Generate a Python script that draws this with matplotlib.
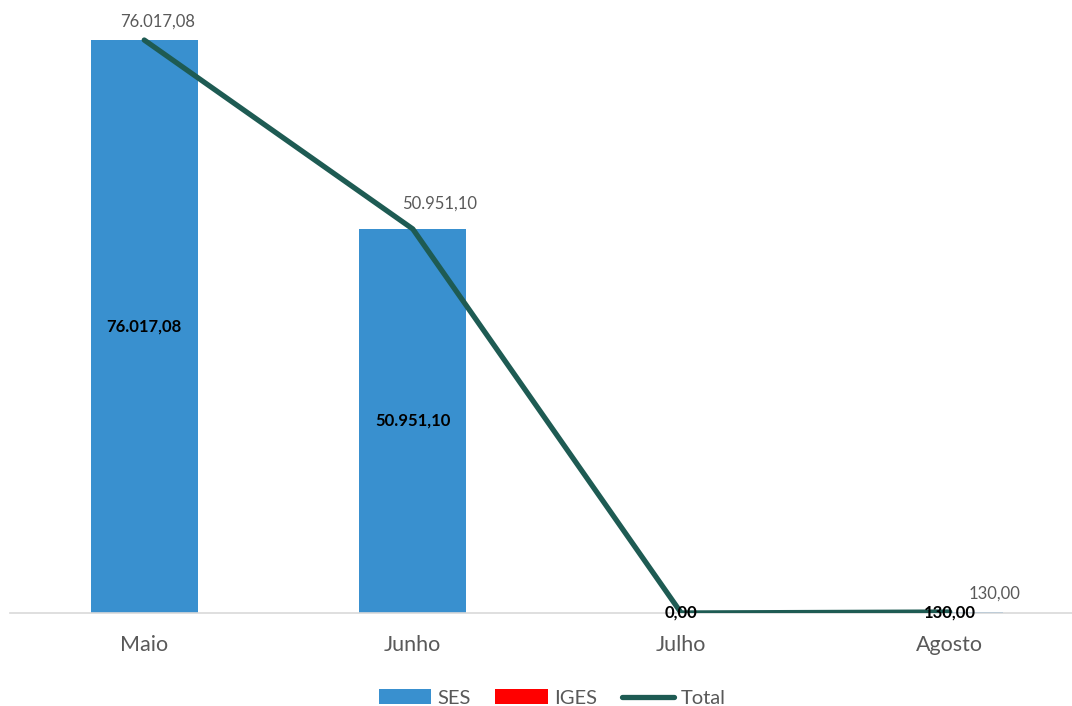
import matplotlib.pyplot as plt
from matplotlib.lines import Line2D
from matplotlib.patches import Patch
import numpy as np

months = ["Maio", "Junho", "Julho", "Agosto"]
ses = [76017.08, 50951.10, 0.00, 130.00]
iges = [0.00, 0.00, 0.00, 0.00]
total = [s + i for s, i in zip(ses, iges)]

# offsets (points) for the Total labels
total_label_offsets = [(9.5, 13), (19.5, 18), (0, 0), (32, 13)]


def fmt_br(v):
    s = f"{v:,.2f}"
    return s.replace(",", "X").replace(".", ",").replace("X", ".")


plt.rcParams["font.family"] = ["Lato", "DejaVu Sans"]

fig = plt.figure(figsize=(10.72, 7.06), dpi=100)
W, H = 1072, 706
left, right, top, bottom = 10, 1084, 10, 613
ax = fig.add_axes([left / W, (H - bottom) / H, (right - left) / W, (bottom - top) / H])

x = np.arange(len(months))
bar_w = 0.4
ses_color, iges_color, total_color = "#3990CF", "#FF0000", "#1E5B53"
ax.bar(x, ses, width=bar_w, color=ses_color, zorder=2)
ax.bar(x, iges, width=bar_w, bottom=ses, color=iges_color, zorder=2)
ax.plot(x, total, color=total_color, lw=3.8, solid_capstyle="round", zorder=3)

# SES values centred in the bars
for xi, v in zip(x, ses):
    ax.text(xi, v / 2, fmt_br(v), ha="center", va="center", fontsize=12,
            fontweight="bold", color="black", zorder=4)

# Total values above the line points
for xi, v, off in zip(x, total, total_label_offsets):
    if v == 0:
        continue
    ax.annotate(fmt_br(v), (xi, v), xytext=off, textcoords="offset points",
                ha="center", va="center", fontsize=12, color="#595959", zorder=4)

ax.set_xlim(-0.5, len(months) - 0.5)
ax.set_ylim(0, 80000)
ax.set_yticks([])
ax.set_xticks(x)
ax.set_xticklabels(months, fontsize=15.5, color="#595959")
ax.tick_params(axis="x", length=0, pad=16)
for s in ["top", "right", "left"]:
    ax.spines[s].set_visible(False)
ax.spines["bottom"].set_color("#D9D9D9")
ax.spines["bottom"].set_linewidth(1.2)

handles = [
    Patch(facecolor=ses_color, label="SES"),
    Patch(facecolor=iges_color, label="IGES"),
    Line2D([0], [0], color=total_color, lw=3.8, solid_capstyle="round", label="Total"),
]
leg = fig.legend(handles=handles, loc="center", bbox_to_anchor=(552 / W, (H - 698) / H),
                 ncol=3, frameon=False, fontsize=14.5, handlelength=2.6, handleheight=0.7,
                 columnspacing=1.25, handletextpad=0.3)
for t in leg.get_texts():
    t.set_color("#595959")

fig.savefig("out.png", dpi=100)
